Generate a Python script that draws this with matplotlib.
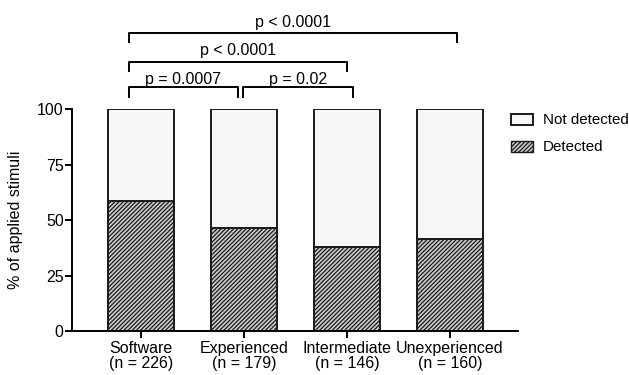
import numpy as np
import matplotlib.pyplot as plt
from matplotlib.patches import Patch

plt.rcParams['font.family'] = ['Liberation Sans', 'DejaVu Sans']
plt.rcParams['hatch.linewidth'] = 0.9
plt.rcParams['hatch.color'] = '#444444'

# data
groups = ['Software', 'Experienced', 'Intermediate', 'Unexperienced']
n_values = [226, 179, 146, 160]
detected = [58.4, 46.4, 37.7, 41.3]
not_detected = [100 - d for d in detected]

# significance brackets: (x start, x end, bar height, tick bottom, label, label y)
brackets = [
    (-0.12, 0.94, 110, 105, 'p = 0.0007', 113.5),
    (0.99, 2.06, 110, 105, 'p = 0.02', 113.5),
    (-0.12, 2.0, 121.2, 116.7, 'p < 0.0001', 126.3),
    (-0.12, 3.07, 134.2, 129.7, 'p < 0.0001', 139.0),
]

fig = plt.figure(figsize=(6.29, 3.75), dpi=100)
ax = fig.add_axes([0.1145, 0.1173, 0.709, 0.592])

x = np.arange(len(groups))
w = 0.65
face_det = '#cccccc'
ax.bar(x, detected, w, color=face_det, edgecolor='#1a1a1a', linewidth=1.4,
       hatch='////////', label='Detected', zorder=2)
ax.bar(x, not_detected, w, bottom=detected, color='#f7f7f7', edgecolor='#1a1a1a',
       linewidth=1.4, label='Not detected', zorder=2)

ax.set_xlim(-0.67, 3.66)
ax.set_ylim(0, 100)
ax.set_yticks([0, 25, 50, 75, 100])
ax.set_xticks(x)
ax.set_xticklabels(['%s\n(n = %d)' % (g, n) for g, n in zip(groups, n_values)],
                   fontsize=11.5, linespacing=1.0)
ax.tick_params(axis='y', labelsize=11.5, width=1.4, length=5, pad=1)
ax.tick_params(axis='x', width=1.4, length=5, pad=2)
ax.set_ylabel('% of applied stimuli', fontsize=11.5, labelpad=10)
for s in ['top', 'right']:
    ax.spines[s].set_visible(False)
for s in ['left', 'bottom']:
    ax.spines[s].set_linewidth(1.4)

for x0, x1, top, bot, lab, ly in brackets:
    ax.plot([x0, x0, x1, x1], [bot, top, top, bot], color='black', lw=1.4,
            clip_on=False, solid_capstyle='butt')
    ax.text((x0 + x1) / 2, ly, lab, ha='center', va='center', fontsize=11.5)

handles = [Patch(facecolor='#f7f7f7', edgecolor='#1a1a1a', linewidth=1.4),
           Patch(facecolor=face_det, edgecolor='#1a1a1a', linewidth=1.0, hatch='////////')]
ax.legend(handles, ['Not detected', 'Detected'], loc='upper left',
          bbox_to_anchor=(0.984, 0.98), frameon=False, fontsize=10.9,
          borderpad=0, borderaxespad=0, handletextpad=0.65,
          handlelength=1.45, handleheight=0.74, labelspacing=0.85)

plt.savefig('out.png', dpi=100)
